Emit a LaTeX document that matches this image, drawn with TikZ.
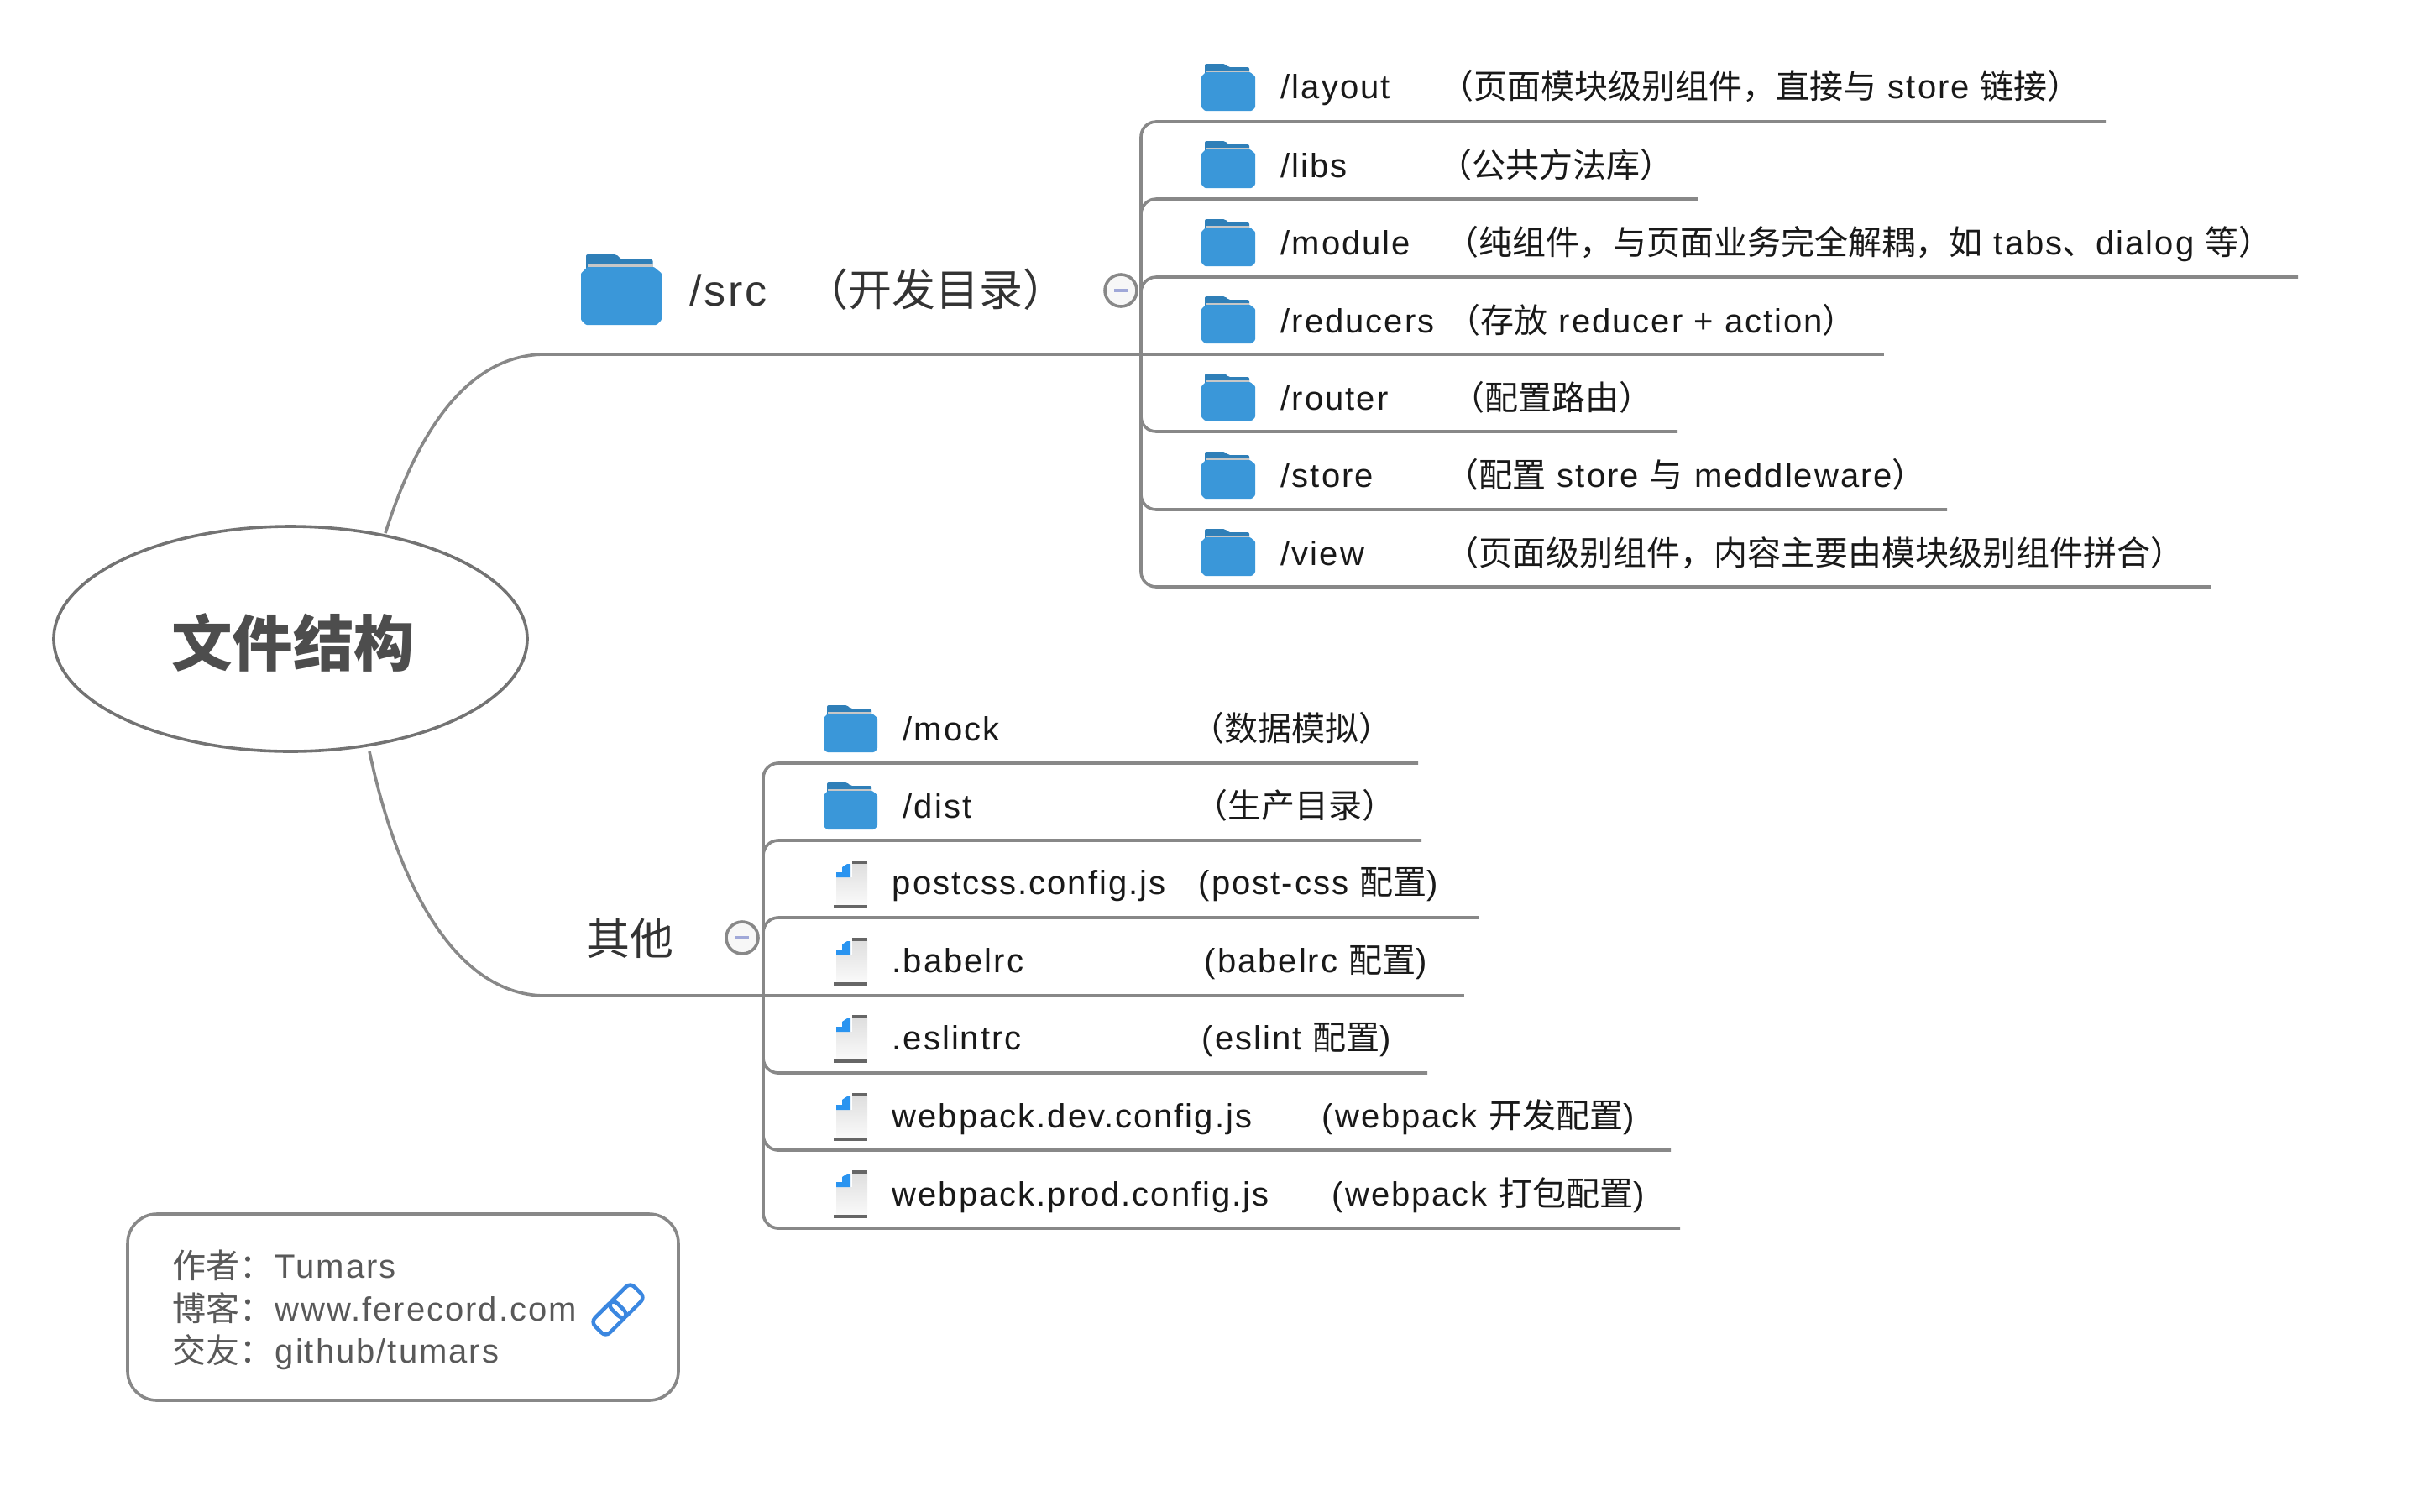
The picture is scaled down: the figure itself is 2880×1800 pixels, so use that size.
\documentclass[tikz,border=0pt]{standalone}
\usepackage{fontspec}
\setmainfont[LetterSpace=5]{Liberation Sans}
\newfontfamily\cjk{Noto Sans CJK SC}
\usetikzlibrary{shapes.geometric}

\newcommand\zh[1]{{\cjk #1}}
\newcommand\itemfont{\fontsize{40}{48}\selectfont}
\newcommand\mainfont{\fontsize{52}{62}\selectfont}
\newcommand\notefont{\fontsize{40}{51}\selectfont}

\definecolor{linegray}{HTML}{888888}
\definecolor{rootgray}{HTML}{4D4D4D}
\definecolor{folderblue}{HTML}{3A97D9}
\definecolor{tabblue}{HTML}{2F7FB8}
\definecolor{cornerblue}{HTML}{2A94F0}
\definecolor{minusblue}{HTML}{A0A8D8}
\definecolor{linkblue}{HTML}{3B87E0}

\tikzset{
  pics/foldericon/.style={code={
    \fill[tabblue,rounded corners=2pt] (-28,-28) -- (-4,-28) -- (0,-24) -- (25,-24) -- (25,-14) -- (-28,-14) -- cycle;
    \fill[black!22] (-27,-20) rectangle (25,-18);
    \fill[folderblue,rounded corners=1pt] (-27,-18) -- (26,-18) -- (32,-13) -- (32,24) -- (28,28) -- (-28,28) -- (-32,24) -- (-32,-13) -- cycle;
  }},
  pics/fileicon/.style={code={
    \shade[top color=black!13,bottom color=black!2] (-17,-8) -- (2,-8) -- (2,-26) -- (20,-26) -- (20,25) -- (-17,25) -- cycle;
    \fill[cornerblue] (-17,-8) -- (-17,-14) -- (-10,-14) -- (-10,-20) -- (-4,-24) -- (0,-24) -- (0,-8) -- cycle;
    \fill[black!60] (2,-28) rectangle (20,-24);
    \fill[black!60] (-20,25) rectangle (20,29);
  }},
  pics/linkicon/.style={code={
    \node[draw=linkblue,line width=4.5pt,rounded corners=7pt,rotate=45,minimum width=38pt,minimum height=25pt] at (-10,10) {};
    \node[draw=linkblue,line width=4.5pt,rounded corners=7pt,rotate=45,minimum width=38pt,minimum height=25pt] at (10,-10) {};
  }}
}

\begin{document}
\begin{tikzpicture}[x=1pt,y=-1pt,line width=3.6pt,draw=linegray]
  \tikzstyle{root}=[ellipse,draw=black!55,minimum width=564pt,minimum height=268pt,inner sep=0pt]
  \tikzstyle{roottext}=[inner sep=0pt,font=\cjk\bfseries\fontsize{72.5}{80}\selectfont,text=rootgray]
  \tikzstyle{branch}=[anchor=base west,inner sep=0pt,font=\mainfont,text=black!80]
  \tikzstyle{item}=[anchor=base west,inner sep=0pt,font=\itemfont,text=black!90]
  \tikzstyle{note}=[anchor=base west,inner sep=0pt,font=\notefont,text=black!65]
  \tikzstyle{toggle}=[circle,draw=linegray,fill=black!3,minimum size=38pt,inner sep=0pt]
  \tikzstyle{elbow}=[rounded corners=18pt]

  \useasboundingbox (0,0) rectangle (2880,1800);

  % Central topic
  \node[root] (root) at (346,761) {};
  \node[roottext] (roottitle) at (349,765) {文件结构};

  % First branch
  \coordinate (srcjoin) at (1359,422);
  \coordinate (srcfork) at (650,422);
  \pic at (740,345) [scale=1.5] {foldericon};
  \node[branch] (src) at (820,364) {/src};
  \node[branch] (srcnote) at (957,364) {\zh{（开发目录）}};
  \node[toggle] (srctoggle) at (1335,346) {};
  \fill[minusblue] (srctoggle.center) +(-8,-2) rectangle +(8,2);

  % Second branch
  \coordinate (otherjoin) at (909,1186);
  \coordinate (otherfork) at (650,1186);
  \node[branch] (other) at (697,1137) {\zh{其他}};
  \node[toggle] (othertoggle) at (884,1117) {};
  \fill[minusblue] (othertoggle.center) +(-8,-2) rectangle +(8,2);

  % Connect the central topic with both branches
  \draw (459,635) .. controls (505,490) and (570,422) .. (srcfork) -- (srcjoin);
  \draw (440,895) .. controls (475,1060) and (545,1186) .. (otherfork) -- (otherjoin);

  % Folders under the first branch
  \coordinate (layoutend) at (2508,145);
  \pic at (1463,104) {foldericon};
  \node[item] (layout) at (1524,117) {/layout};
  \node[item] (layoutnote) at (1714,117) {\zh{（页面模块级别组件，直接与} store \zh{链接）}};

  \coordinate (libsend) at (2022,237);
  \pic at (1463,196) {foldericon};
  \node[item] (libs) at (1524,211) {/libs};
  \node[item] (libsnote) at (1712,211) {\zh{（公共方法库）}};

  \coordinate (moduleend) at (2737,330);
  \pic at (1463,289) {foldericon};
  \node[item] (module) at (1524,303) {/module};
  \node[item] (modulenote) at (1720,303) {\zh{（纯组件，与页面业务完全解耦，如} tabs\zh{、}dialog \zh{等）}};

  \coordinate (reducersend) at (2244,422);
  \pic at (1463,381) {foldericon};
  \node[item] (reducers) at (1524,396) {/reducers};
  \node[item] (reducersnote) at (1722,396) {\zh{（存放} reducer + action\zh{）}};

  \coordinate (routerend) at (1998,514);
  \pic at (1463,473) {foldericon};
  \node[item] (router) at (1524,488) {/router};
  \node[item] (routernote) at (1727,488) {\zh{（配置路由）}};

  \coordinate (storeend) at (2319,607);
  \pic at (1463,566) {foldericon};
  \node[item] (store) at (1524,580) {/store};
  \node[item] (storenote) at (1720,580) {\zh{（配置} store \zh{与} meddleware\zh{）}};

  \coordinate (viewend) at (2633,699);
  \pic at (1463,658) {foldericon};
  \node[item] (view) at (1524,673) {/view};
  \node[item] (viewnote) at (1720,673) {\zh{（页面级别组件，内容主要由模块级别组件拼合）}};

  \draw[elbow] (srcjoin) |- (layoutend);
  \draw[elbow] (srcjoin) |- (libsend);
  \draw[elbow] (srcjoin) |- (moduleend);
  \draw (srcjoin) -- (reducersend);
  \draw[elbow] (srcjoin) |- (routerend);
  \draw[elbow] (srcjoin) |- (storeend);
  \draw[elbow] (srcjoin) |- (viewend);

  % Files under the second branch
  \coordinate (mockend) at (1689,909);
  \pic at (1013,868) {foldericon};
  \node[item] (mock) at (1074,882) {/mock};
  \node[item] (mocknote) at (1417,882) {\zh{（数据模拟）}};

  \coordinate (distend) at (1693,1001);
  \pic at (1013,960) {foldericon};
  \node[item] (dist) at (1074,974) {/dist};
  \node[item] (distnote) at (1421,974) {\zh{（生产目录）}};

  \coordinate (postcssend) at (1761,1093);
  \pic at (1013,1053) {fileicon};
  \node[item] (postcss) at (1061,1065) {postcss.config.js};
  \node[item] (postcssnote) at (1426,1065) {(post-css \zh{配置})};

  \coordinate (babelend) at (1744,1186);
  \pic at (1013,1145) {fileicon};
  \node[item] (babel) at (1061,1158) {.babelrc};
  \node[item] (babelnote) at (1433,1158) {(babelrc \zh{配置})};

  \coordinate (eslintend) at (1700,1278);
  \pic at (1013,1237) {fileicon};
  \node[item] (eslint) at (1061,1250) {.eslintrc};
  \node[item] (eslintnote) at (1430,1250) {(eslint \zh{配置})};

  \coordinate (devend) at (1990,1370);
  \pic at (1013,1330) {fileicon};
  \node[item] (dev) at (1061,1343) {webpack.dev.config.js};
  \node[item] (devnote) at (1573,1343) {(webpack \zh{开发配置})};

  \coordinate (prodend) at (2001,1463);
  \pic at (1013,1422) {fileicon};
  \node[item] (prod) at (1061,1436) {webpack.prod.config.js};
  \node[item] (prodnote) at (1585,1436) {(webpack \zh{打包配置})};

  \draw[elbow] (otherjoin) |- (mockend);
  \draw[elbow] (otherjoin) |- (distend);
  \draw[elbow] (otherjoin) |- (postcssend);
  \draw (otherjoin) -- (babelend);
  \draw[elbow] (otherjoin) |- (eslintend);
  \draw[elbow] (otherjoin) |- (devend);
  \draw[elbow] (otherjoin) |- (prodend);

  % Note in the corner
  \draw[rounded corners=35pt] (152,1446) rectangle (808,1668);
  \node[note] (author) at (204,1522) {\zh{作者：}};
  \node[note] (authorname) at (326,1522) {Tumars};
  \node[note] (blog) at (204,1573) {\zh{博客：}};
  \node[note] (blogname) at (326,1573) {www.ferecord.com};
  \node[note] (friend) at (204,1623) {\zh{交友：}};
  \node[note] (friendname) at (326,1623) {github/tumars};
  \pic at (736,1560) {linkicon};
\end{tikzpicture}
\end{document}
